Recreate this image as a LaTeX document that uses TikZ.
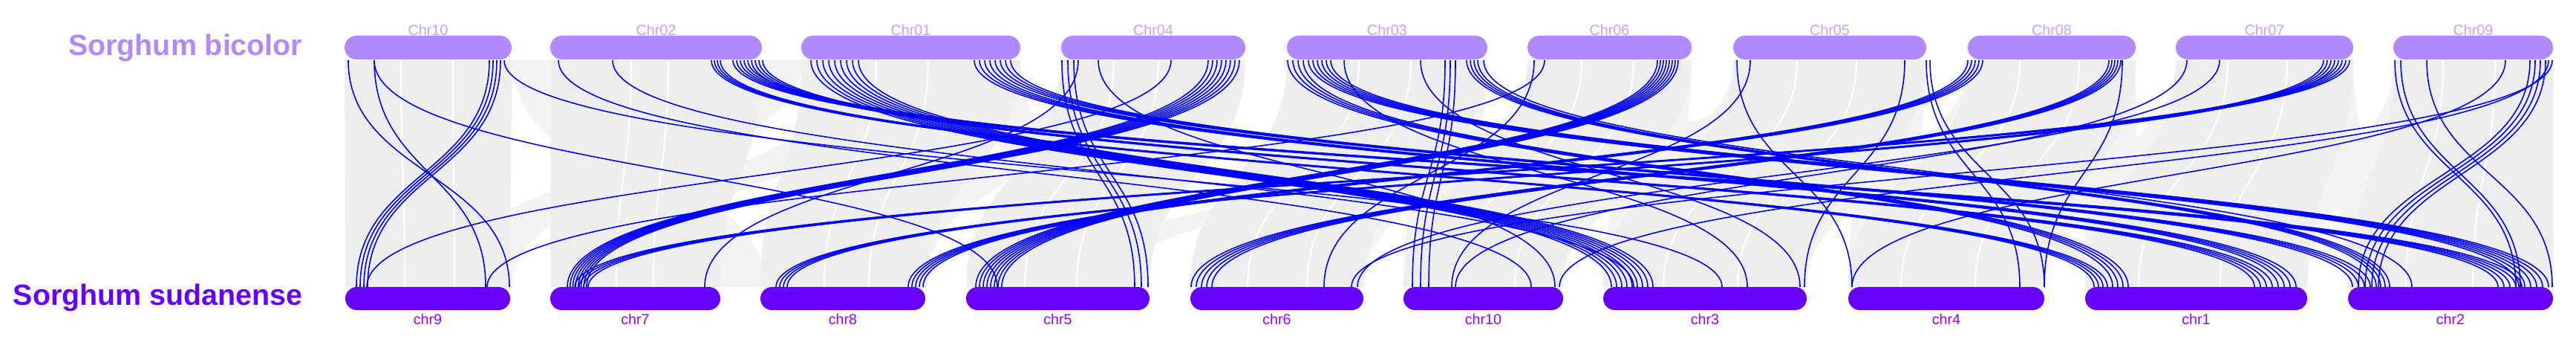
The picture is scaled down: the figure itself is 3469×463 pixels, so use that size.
\documentclass[tikz,border=0pt]{standalone}
\usepackage{fontspec}
\setmainfont{Liberation Sans}
\definecolor{topc}{HTML}{B088FF}
\definecolor{botc}{HTML}{6600FF}
\definecolor{toplab}{HTML}{CC99FF}
\definecolor{botlab}{HTML}{9900FF}
\definecolor{gr}{HTML}{EEEEEE}
\definecolor{grl}{HTML}{F3F3F3}
\definecolor{bl}{HTML}{0000FF}
\newcommand\bnd[5]{\foreach \ii in {1,...,#5}{\pgfmathsetmacro\xa{#1+(\ii-1)*(#2)}\pgfmathsetmacro\xb{#3+(\ii-1)*(#4)}\draw[blk] (\xa,81) .. controls (\xa,234) and (\xb,234) .. (\xb,386);}}
\newcommand\rib[5][gr]{\fill[#1] (#2,81) .. controls (#2,234) and (#4,234) .. (#4,386) -- (#5,386) .. controls (#5,234) and (#3,234) .. (#3,81) -- cycle;}
\newcommand\wln[2]{\draw[white,line width=0.6pt] (#1,81) .. controls (#1,234) and (#2,234) .. (#2,386);}
\begin{document}
\begin{tikzpicture}[x=0.01cm,y=-0.01cm,
  blk/.style={draw=bl,line width=0.45pt},
  tbar/.style={fill=topc,rounded corners=0.16cm,inner sep=0pt,minimum height=0.32cm},
  bbar/.style={fill=botc,rounded corners=0.155cm,inner sep=0pt,minimum height=0.31cm},
  tlab/.style={text=toplab,font=\fontsize{5.6}{6}\selectfont,inner sep=0pt,anchor=base},
  blab/.style={text=botlab,font=\fontsize{5.6}{6}\selectfont,inner sep=0pt,anchor=base},
  sp/.style={font=\fontsize{11.2}{13}\selectfont\bfseries,inner sep=0pt,anchor=base east}]
\useasboundingbox (0,0) rectangle (3469,463);
% light gray cross ribbons (wide)
\rib[grl]{690}{760}{930}{1030}
\rib[grl]{1000}{1080}{600}{690}
\rib[grl]{1300}{1374}{1470}{1548}
\rib[grl]{1429}{1500}{1180}{1246}
\rib[grl]{1920}{2003}{1890}{1960}
\rib[grl]{2057}{2120}{1760}{1836}
\rib[grl]{2210}{2278}{2159}{2230}
\rib[grl]{2334}{2400}{2030}{2105}
\rib[grl]{2520}{2594}{2489}{2560}
\rib[grl]{2650}{2720}{2360}{2433}
\rib[grl]{2800}{2876}{2808}{2880}
\rib[grl]{2930}{3000}{2680}{2753}
\rib[grl]{3100}{3169}{3162}{3230}
\rib[grl]{3223}{3290}{3030}{3107}
\rib[grl]{1150}{1250}{770}{860}
\rib[grl]{2400}{2480}{1420}{1500}
% gray homolog ribbons
\rib{464}{689}{465}{687}
\rib{741}{1026}{741}{970}
\rib{1079}{1374}{1024}{1246}
\rib{1429}{1677}{1301}{1548}
\rib{1733}{2003}{1603}{1836}
\rib{2057}{2278}{1890}{2105}
\rib{2334}{2594}{2159}{2433}
\rib{2650}{2876}{2489}{2753}
\rib{2930}{3169}{2808}{3107}
\rib{3223}{3438}{3162}{3438}
% gray cross ribbons
\rib{655}{690}{470}{505}
\rib{955}{1030}{3030}{3100}
\rib{1088}{1160}{2165}{2232}
\rib{1620}{1677}{755}{800}
\rib{2228}{2265}{1308}{1358}
\rib{1730}{1800}{2815}{2878}
\rib{3122}{3170}{1040}{1072}
\rib{2645}{2678}{1218}{1248}
\rib{1760}{1800}{3385}{3438}
\rib{2835}{2862}{1600}{1640}
\rib{3400}{3435}{3170}{3210}
% white texture
\wln{540}{545}\wln{610}{612}\wln{850}{830}\wln{900}{880}\wln{1180}{1110}\wln{1250}{1170}
\wln{1500}{1380}\wln{1560}{1450}\wln{1830}{1680}\wln{1900}{1760}\wln{2130}{1960}\wln{2200}{2040}
\wln{2420}{2240}\wln{2500}{2340}\wln{2720}{2560}\wln{2800}{2660}\wln{3000}{2880}\wln{3080}{2990}
\wln{3290}{3240}\wln{3360}{3330}
% blue links
\bnd{469}{0}{686}{0}{1}
\bnd{504}{0}{654}{0}{1}
\bnd{504}{0}{1343}{0}{1}
\bnd{659}{5}{480}{5}{4}
\bnd{679}{0}{2319}{0}{1}
\bnd{752}{0}{2062}{0}{1}
\bnd{825}{0}{2200}{0}{1}
\bnd{958}{4}{2820}{6}{4}
\bnd{987}{5}{3364}{8}{5}
\bnd{1012}{5}{3036}{8}{4}
\bnd{1092}{8}{2170}{7}{9}
\bnd{1312}{7}{3068}{8}{4}
\bnd{1340}{7}{3168}{8}{4}
\bnd{1430}{8}{1528}{9}{3}
\bnd{1452}{0}{949}{0}{1}
\bnd{1479}{0}{2094}{0}{1}
\bnd{1577}{0}{494}{0}{1}
\bnd{1627}{6}{764}{3.7}{8}
\bnd{1734}{7}{2845}{7}{4}
\bnd{1762}{6}{3392}{8}{6}
\bnd{1810}{0}{2353}{0}{1}
\bnd{1913}{0}{2424}{0}{1}
\bnd{1946}{7}{1902}{11}{3}
\bnd{1975}{5}{3200}{6}{4}
\bnd{1998}{0}{3248}{0}{1}
\bnd{2066}{0}{1783}{0}{1}
\bnd{2080}{0}{656}{0}{1}
\bnd{2232}{4}{1314}{5}{8}
\bnd{2339}{0}{2494}{0}{1}
\bnd{2357}{0}{1955}{0}{1}
\bnd{2565}{0}{2430}{0}{1}
\bnd{2594}{5}{2720}{33}{2}
\bnd{2650}{5}{1223}{5}{5}
\bnd{2840}{4}{1604}{7}{5}
\bnd{2858}{0}{2753}{0}{1}
\bnd{2945}{0}{1960}{0}{1}
\bnd{2989}{0}{1828}{0}{1}
\bnd{3129}{5}{1045}{5}{4}
\bnd{3149}{5}{774}{6}{4}
\bnd{3225}{8}{3388}{6}{2}
\bnd{3268}{0}{3437}{0}{1}
\bnd{3374}{0}{2494}{0}{1}
\bnd{3407}{7}{3176}{9}{4}
\bnd{3432}{5}{2100}{-280}{2}
% top chromosomes
\foreach \nm/\a/\b in {Chr10/464/689,Chr02/741/1026,Chr01/1079/1374,Chr04/1429/1677,Chr03/1733/2003,Chr06/2057/2278,Chr05/2334/2594,Chr08/2650/2876,Chr07/2930/3169,Chr09/3223/3438}{
  \node[tbar,minimum width={(\b-\a)*0.01cm}] (\nm) at ({(\a+\b)/2},64) {};
  \node[tlab] (\nm-lab) at ({(\a+\b)/2},47) {\nm};
}
% bottom chromosomes
\foreach \nm/\a/\b in {chr9/465/687,chr7/741/970,chr8/1024/1246,chr5/1301/1548,chr6/1603/1836,chr10/1890/2105,chr3/2159/2433,chr4/2489/2753,chr1/2808/3107,chr2/3162/3438}{
  \node[bbar,minimum width={(\b-\a)*0.01cm}] (\nm) at ({(\a+\b)/2},401.5) {};
  \node[blab] (\nm-lab) at ({(\a+\b)/2},436) {\nm};
}
\node[sp,text=topc] (sb) at (408,74) {Sorghum bicolor};
\node[sp,text=botc] (ss) at (408,410) {Sorghum sudanense};
\end{tikzpicture}
\end{document}
